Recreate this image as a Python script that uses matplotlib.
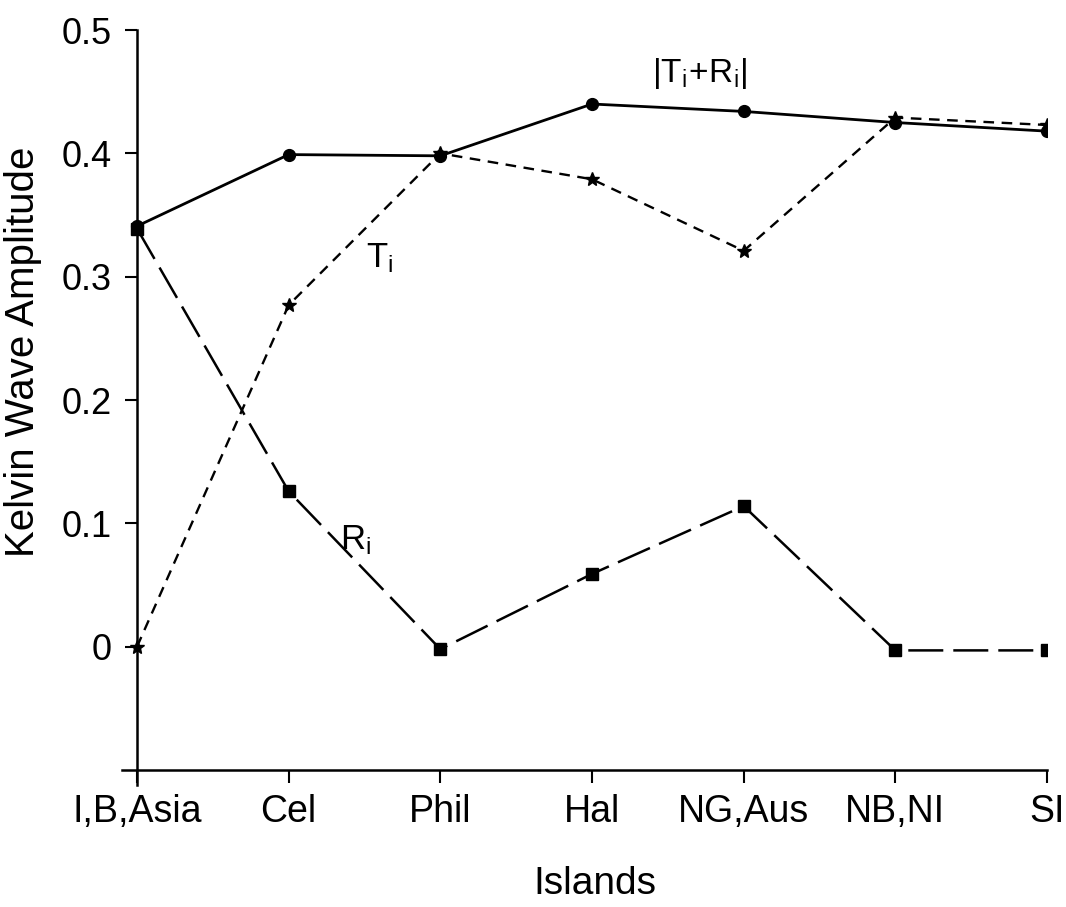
import matplotlib
matplotlib.use("Agg")
import matplotlib.pyplot as plt

plt.rcParams['font.family'] = ['Liberation Sans', 'DejaVu Sans']
plt.rcParams['mathtext.fontset'] = 'custom'
plt.rcParams['mathtext.rm'] = 'Liberation Sans'
plt.rcParams['mathtext.it'] = 'Liberation Sans'

islands = ["I,B,Asia", "Cel", "Phil", "Hal", "NG,Aus", "NB,NI", "SI"]
sum_amp = [0.341, 0.399, 0.398, 0.440, 0.434, 0.425, 0.418]
t_amp = [0.000, 0.277, 0.400, 0.379, 0.321, 0.429, 0.423]
r_amp = [0.339, 0.126, -0.002, 0.059, 0.114, -0.003, -0.003]
yticks = [0, 0.1, 0.2, 0.3, 0.4, 0.5]
yticklabels = ["0", "0.1", "0.2", "0.3", "0.4", "0.5"]

fig = plt.figure(figsize=(10.66, 9.07), dpi=100)
ax = fig.add_axes([0.1143, 0.1347, 0.8679, 0.8322])

x = list(range(len(islands)))

ax.plot(x, sum_amp, color='black', lw=2.0, marker='o', markersize=8.5, zorder=3)
ax.plot(x, t_amp, color='black', lw=1.7, dashes=(4.5, 3.2), marker='*',
        markersize=10, zorder=2)
ax.plot(x, r_amp, color='black', lw=1.8, dashes=(14, 4), marker='s',
        markersize=8.5, zorder=2)

ax.set_xlim(-0.1, 6)
ax.set_ylim(-0.112, 0.5)
ax.spines['right'].set_visible(False)
ax.spines['top'].set_visible(False)
ax.spines['left'].set_position(('data', 0))
ax.spines['bottom'].set_position(('data', -0.1))
for s in ('left', 'bottom'):
    ax.spines[s].set_linewidth(1.8)

ax.set_xticks(x)
ax.set_xticklabels(islands, fontsize=27)
ax.set_yticks(yticks)
ax.set_yticklabels(yticklabels, fontsize=26)
ax.tick_params(axis='both', direction='out', length=9, width=1.5)
ax.tick_params(axis='y', pad=9)
ax.tick_params(axis='x', pad=8)

ax.text(3.71, 0.465, r"$\mathregular{|T_i\!+\!R_i|}$", fontsize=24,
        ha='center', va='center')
ax.text(1.60, 0.315, r"$\mathregular{T_i}$", fontsize=25, ha='center', va='center')
ax.text(1.44, 0.086, r"$\mathregular{R_i}$", fontsize=25, ha='center', va='center')

fig.text(23 / 1066, 1 - 352 / 907, "Kelvin Wave Amplitude", fontsize=29,
         rotation=90, ha='center', va='center')
fig.text(595 / 1066, 1 - 884 / 907, "Islands", fontsize=28,
         ha='center', va='center')

fig.savefig("out.png", dpi=100)
